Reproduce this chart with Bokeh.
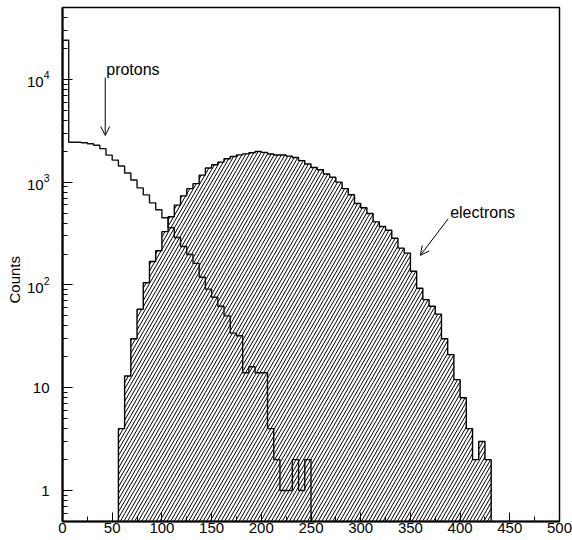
import numpy as np
from bokeh.plotting import figure
from bokeh.models import (Range1d, FixedTicker, LogTickFormatter, SingleIntervalTicker,
                          Arrow, OpenHead, Label, Title)
from bokeh.embed import file_html
from bokeh.resources import INLINE

# ---------------- data ----------------
bin_width = 6.25
x_lo, x_hi = 0, 500
y_lo, y_hi = 0.5, 5e4

# protons: bins starting at 0
proton_counts = [24000, 2445, 2445, 2420, 2365, 2287, 2117, 1832, 1637, 1434,
                 1228, 1050, 879, 752, 629, 539, 451, 360, 289, 237,
                 198, 162, 119, 91, 76, 62, 50, 34, 32, 14,
                 16, 14, 14, 4, 2, 1, 1, 2, 1, 2]
proton_first_bin = 0

# electrons: bins starting at bin 9 (56.25)
electron_counts = [4, 13, 30, 58, 105, 169, 215, 330, 461, 598,
                   736, 865, 967, 1170, 1371, 1476, 1567, 1687, 1778, 1842,
                   1885, 1930, 1990, 1950, 1880, 1840, 1840, 1790, 1740, 1620,
                   1500, 1390, 1320, 1200, 1116, 1000, 866, 755, 620, 563,
                   495, 411, 370, 340, 285, 228, 204, 136, 93, 72,
                   62, 52, 30, 21, 12, 8, 4, 2, 3, 2]
electron_first_bin = 9

y_major = [1, 10, 100, 1000, 10000]

# ---------------- figure ----------------
W, H = 572, 540
BL, BR, BT, BB = 62, 13, 7, 19
FW, FH = W - BL - BR, H - BT - BB
p = figure(width=W, height=H, y_axis_type="log",
           x_range=Range1d(x_lo, x_hi), y_range=Range1d(y_lo, y_hi),
           output_backend="svg", toolbar_location=None,
           min_border_left=BL, min_border_right=BR, min_border_top=BT, min_border_bottom=BB)
p.background_fill_color = "white"
p.border_fill_color = "white"
p.grid.visible = False
p.outline_line_color = "black"
p.outline_line_width = 1.5

FONT = "Liberation Sans"

# x axis
p.xaxis.ticker = SingleIntervalTicker(interval=50, num_minor_ticks=2)
p.xaxis.major_tick_in = 9
p.xaxis.major_tick_out = 0
p.xaxis.minor_tick_in = 5
p.xaxis.minor_tick_out = 0
p.xaxis.major_label_standoff = 1

# y axis
minor = [m * 10.0 ** e for e in range(-1, 5) for m in range(2, 10) if y_lo < m * 10.0 ** e < y_hi]
p.yaxis.ticker = FixedTicker(ticks=y_major, minor_ticks=minor)
p.yaxis.formatter = LogTickFormatter(min_exponent=2)
p.yaxis.major_tick_in = 10
p.yaxis.major_tick_out = 0
p.yaxis.minor_tick_in = 5
p.yaxis.minor_tick_out = 0
p.yaxis.major_label_standoff = 13

for ax in (p.xaxis, p.yaxis):
    ax.axis_line_width = 2
    ax.axis_line_color = "black"
    ax.major_tick_line_color = "black"
    ax.minor_tick_line_color = "black"
    ax.major_tick_line_width = 1
    ax.minor_tick_line_width = 1
    ax.major_label_text_font = FONT
    ax.major_label_text_font_size = "15px"
    ax.major_label_text_color = "black"


def step_path(first_bin, counts):
    xs, ys = [first_bin * bin_width], [y_lo]
    xr = first_bin * bin_width
    for i, c in enumerate(counts):
        xl = (first_bin + i) * bin_width
        xr = xl + bin_width
        xs += [xl, xr]
        ys += [c, c]
    xs.append(xr)
    ys.append(y_lo)
    return xs, ys


# hatch for electrons: computed in screen space, mapped back to data
ly0, ly1 = np.log10(y_lo), np.log10(y_hi)


def to_sx(x):
    return (x - x_lo) / (x_hi - x_lo) * FW


def to_sy(y):
    return (np.log10(y) - ly0) / (ly1 - ly0) * FH


def from_sx(s):
    return x_lo + s / FW * (x_hi - x_lo)


def from_sy(s):
    return 10 ** (ly0 + s / FH * (ly1 - ly0))


k = np.tan(np.radians(60))
spacing = 3.6
cols = []
for i, c in enumerate(electron_counts):
    xl = (electron_first_bin + i) * bin_width
    cols.append((to_sx(xl), to_sx(xl + bin_width), to_sy(c)))
hmax = max(h for _, _, h in cols)
smin = cols[0][0] - hmax / k - spacing
smax = cols[-1][1]
n0 = int(np.floor(smin / spacing))
n1 = int(np.ceil(smax / spacing))
hx0, hy0, hx1, hy1 = [], [], [], []
for n in range(n0, n1 + 1):
    s0 = n * spacing
    for a, b, h in cols:
        lo = max(a, s0)
        hi = min(b, s0 + h / k)
        if hi > lo:
            hx0.append(from_sx(lo)); hy0.append(from_sy(max(k * (lo - s0), 0) + 1e-9))
            hx1.append(from_sx(hi)); hy1.append(from_sy(k * (hi - s0)))

p.segment(hx0, hy0, hx1, hy1, line_color="black", line_width=1)

ex, ey = step_path(electron_first_bin, electron_counts)
p.line(ex, ey, line_color="black", line_width=1.4)

px_, py_ = step_path(proton_first_bin, proton_counts)
p.line(px_, py_, line_color="#111111", line_width=1.4)

# y-axis title, a little below the frame centre as in the original
p.add_layout(Title(text="Counts", align="left", offset=218, text_font=FONT,
                   text_font_size="15px", text_font_style="normal", text_color="black",
                   standoff=2), "left")

# annotations
p.add_layout(Label(x=44, y=12400, text="protons", text_font=FONT, text_font_size="16px",
                   text_color="black", text_baseline="alphabetic", text_align="left"))
p.add_layout(Arrow(end=OpenHead(size=9, line_width=1, line_color="black"),
                   x_start=43, y_start=10400, x_end=43, y_end=2850,
                   line_width=1, line_color="black"))
p.add_layout(Label(x=390, y=510, text="electrons", text_font=FONT, text_font_size="16px",
                   text_color="black", text_baseline="alphabetic", text_align="left"))
p.add_layout(Arrow(end=OpenHead(size=9, line_width=1, line_color="black"),
                   x_start=388, y_start=440, x_end=360, y_end=194,
                   line_width=1, line_color="black"))

open("out.html", "w").write(file_html(p, INLINE))
